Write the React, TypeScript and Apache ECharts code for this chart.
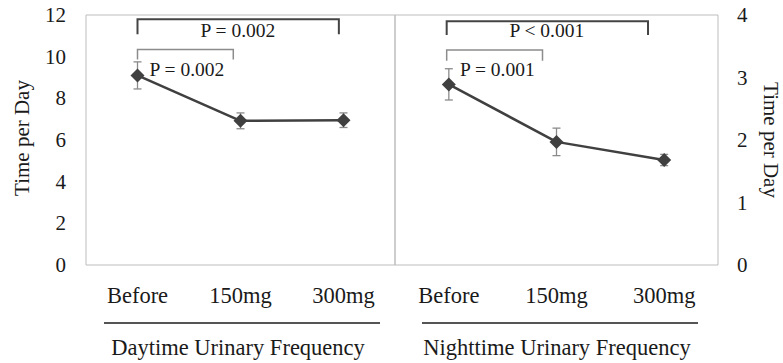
import React, { useEffect, useRef } from "react";
import * as echarts from "echarts";

const categories = ["Before", "150mg", "300mg"];
const dayMean = [9.1, 6.92, 6.95];
const dayErr = [0.65, 0.38, 0.35];
const nightMean = [2.89, 1.97, 1.68];
const nightErr = [0.25, 0.22, 0.09];

const leftTicks = { min: 0, max: 12, interval: 2 };
const rightTicks = { min: 0, max: 4, interval: 1 };

// brackets in data units: [startCat, endCat, topValue, dropValue, labelCat, labelValue]
const dayBrackets = [
  [0, 1.955, 11.8, 11.08, 0.975, 11.27],
  [0, 0.93, 10.35, 9.87, 0.48, 9.39],
];
const dayPLabels = ["P = 0.002", "P = 0.002"];
const nightBrackets = [
  [-0.02, 1.85, 3.9, 3.68, 0.91, 3.76],
  [-0.02, 0.87, 3.44, 3.27, 0.45, 3.13],
];
const nightPLabels = ["P < 0.001", "P = 0.001"];

const groupTitles = ["Daytime Urinary Frequency", "Nighttime Urinary Frequency"];
const yTitle = "Time per Day";

const FONT = "'Liberation Serif', 'Times New Roman', serif";
const TXT = "#1a1a1a";

function errorSeries(idx: number, mean: number[], err: number[]) {
  return {
    type: "custom",
    xAxisIndex: idx,
    yAxisIndex: idx,
    z: 2,
    data: mean.map((m, i) => [i, m - err[i], m + err[i]]),
    renderItem: (_p: any, api: any) => {
      const i = api.value(0);
      const lo = api.coord([i, api.value(1)]);
      const hi = api.coord([i, api.value(2)]);
      const w = 4;
      const st = { stroke: "#8a8a8a", lineWidth: 1.3 };
      return {
        type: "group",
        children: [
          { type: "line", shape: { x1: lo[0], y1: lo[1], x2: hi[0], y2: hi[1] }, style: st },
          { type: "line", shape: { x1: lo[0] - w, y1: lo[1], x2: lo[0] + w, y2: lo[1] }, style: st },
          { type: "line", shape: { x1: hi[0] - w, y1: hi[1], x2: hi[0] + w, y2: hi[1] }, style: st },
        ],
      };
    },
  };
}

function bracketSeries(idx: number, brackets: number[][], labels: string[]) {
  return {
    type: "custom",
    xAxisIndex: idx,
    yAxisIndex: idx,
    z: 3,
    clip: false,
    data: brackets.map((b, k) => [0, b[2], b[0], b[1], b[3], b[4], b[5], k]),
    renderItem: (_p: any, api: any) => {
      const top = api.value(1);
      const c0 = api.coord([0, top]);
      const c1 = api.coord([1, top]);
      const px = (v: number) => c0[0] + (c1[0] - c0[0]) * v;
      const x1 = px(api.value(2));
      const x2 = px(api.value(3));
      const yTop = c0[1];
      const yDrop = api.coord([0, api.value(4)])[1];
      const tx = px(api.value(5));
      const ty = api.coord([0, api.value(6)])[1];
      const k = api.value(7);
      const big = k === 0;
      return {
        type: "group",
        children: [
          {
            type: "polyline",
            shape: { points: [[x1, yDrop], [x1, yTop], [x2, yTop], [x2, yDrop]] },
            style: { stroke: big ? "#444" : "#8c8c8c", lineWidth: big ? 2 : 1.5, fill: "none" },
          },
          {
            type: "text",
            style: {
              text: labels[k],
              x: tx,
              y: ty,
              align: "center",
              verticalAlign: "middle",
              fill: TXT,
              fontSize: 19.5,
              fontFamily: FONT,
            },
          },
        ],
      };
    },
  };
}

export default function App() {
  const ref = useRef<HTMLDivElement>(null);
  useEffect(() => {
    if (!ref.current) return;
    const chart = echarts.init(ref.current, null, { renderer: "svg" });
    const axisLabel = { color: TXT, fontSize: 21, fontFamily: FONT };
    chart.setOption({
      animation: false,
      backgroundColor: "#fff",
      grid: [
        { left: 86, top: 15, width: 309, height: 250, show: true, borderColor: "#bdbdbd", borderWidth: 1 },
        { left: 395, top: 15, width: 323, height: 250, show: true, borderColor: "#bdbdbd", borderWidth: 1 },
      ],
      xAxis: [0, 1].map((i) => ({
        type: "category",
        gridIndex: i,
        data: categories,
        boundaryGap: true,
        axisLine: { show: false },
        axisTick: { show: false },
        axisLabel: { ...axisLabel, fontSize: 22.5, margin: 19 },
        splitLine: { show: false },
      })),
      yAxis: [
        {
          type: "value",
          gridIndex: 0,
          position: "left",
          ...leftTicks,
          axisLine: { show: false },
          axisTick: { show: false },
          splitLine: { show: false },
          axisLabel: { ...axisLabel, margin: 20 },
        },
        {
          type: "value",
          gridIndex: 1,
          position: "right",
          ...rightTicks,
          axisLine: { show: false },
          axisTick: { show: false },
          splitLine: { show: false },
          axisLabel: { ...axisLabel, margin: 19 },
        },
      ],
      series: [
        errorSeries(0, dayMean, dayErr),
        errorSeries(1, nightMean, nightErr),
        {
          type: "line",
          xAxisIndex: 0,
          yAxisIndex: 0,
          z: 4,
          data: dayMean,
          symbol: "diamond",
          symbolSize: 14,
          lineStyle: { color: "#404040", width: 2.5 },
          itemStyle: { color: "#404040" },
        },
        {
          type: "line",
          xAxisIndex: 1,
          yAxisIndex: 1,
          z: 4,
          data: nightMean,
          symbol: "diamond",
          symbolSize: 14,
          lineStyle: { color: "#404040", width: 2.5 },
          itemStyle: { color: "#404040" },
        },
        bracketSeries(0, dayBrackets, dayPLabels),
        bracketSeries(1, nightBrackets, nightPLabels),
      ],
      graphic: [
        { type: "line", shape: { x1: 104, y1: 323, x2: 380, y2: 323 }, style: { stroke: "#555", lineWidth: 2 } },
        { type: "line", shape: { x1: 422, y1: 323, x2: 698, y2: 323 }, style: { stroke: "#555", lineWidth: 2 } },
        {
          type: "text",
          x: 238,
          y: 347,
          style: { text: groupTitles[0], align: "center", verticalAlign: "middle", fill: TXT, fontSize: 22.5, fontFamily: FONT },
        },
        {
          type: "text",
          x: 557,
          y: 347,
          style: { text: groupTitles[1], align: "center", verticalAlign: "middle", fill: TXT, fontSize: 22.5, fontFamily: FONT },
        },
        {
          type: "text",
          x: 22,
          y: 138,
          rotation: Math.PI / 2,
          style: { text: yTitle, align: "center", verticalAlign: "middle", fill: TXT, fontSize: 21, fontFamily: FONT },
        },
        {
          type: "text",
          x: 771,
          y: 140,
          rotation: -Math.PI / 2,
          style: { text: yTitle, align: "center", verticalAlign: "middle", fill: TXT, fontSize: 21, fontFamily: FONT },
        },
      ],
    });
    return () => chart.dispose();
  }, []);
  return (
    <div
      ref={ref}
      style={{ position: "fixed", left: 0, top: 0, width: 783, height: 363, background: "#fff" }}
    />
  );
}
